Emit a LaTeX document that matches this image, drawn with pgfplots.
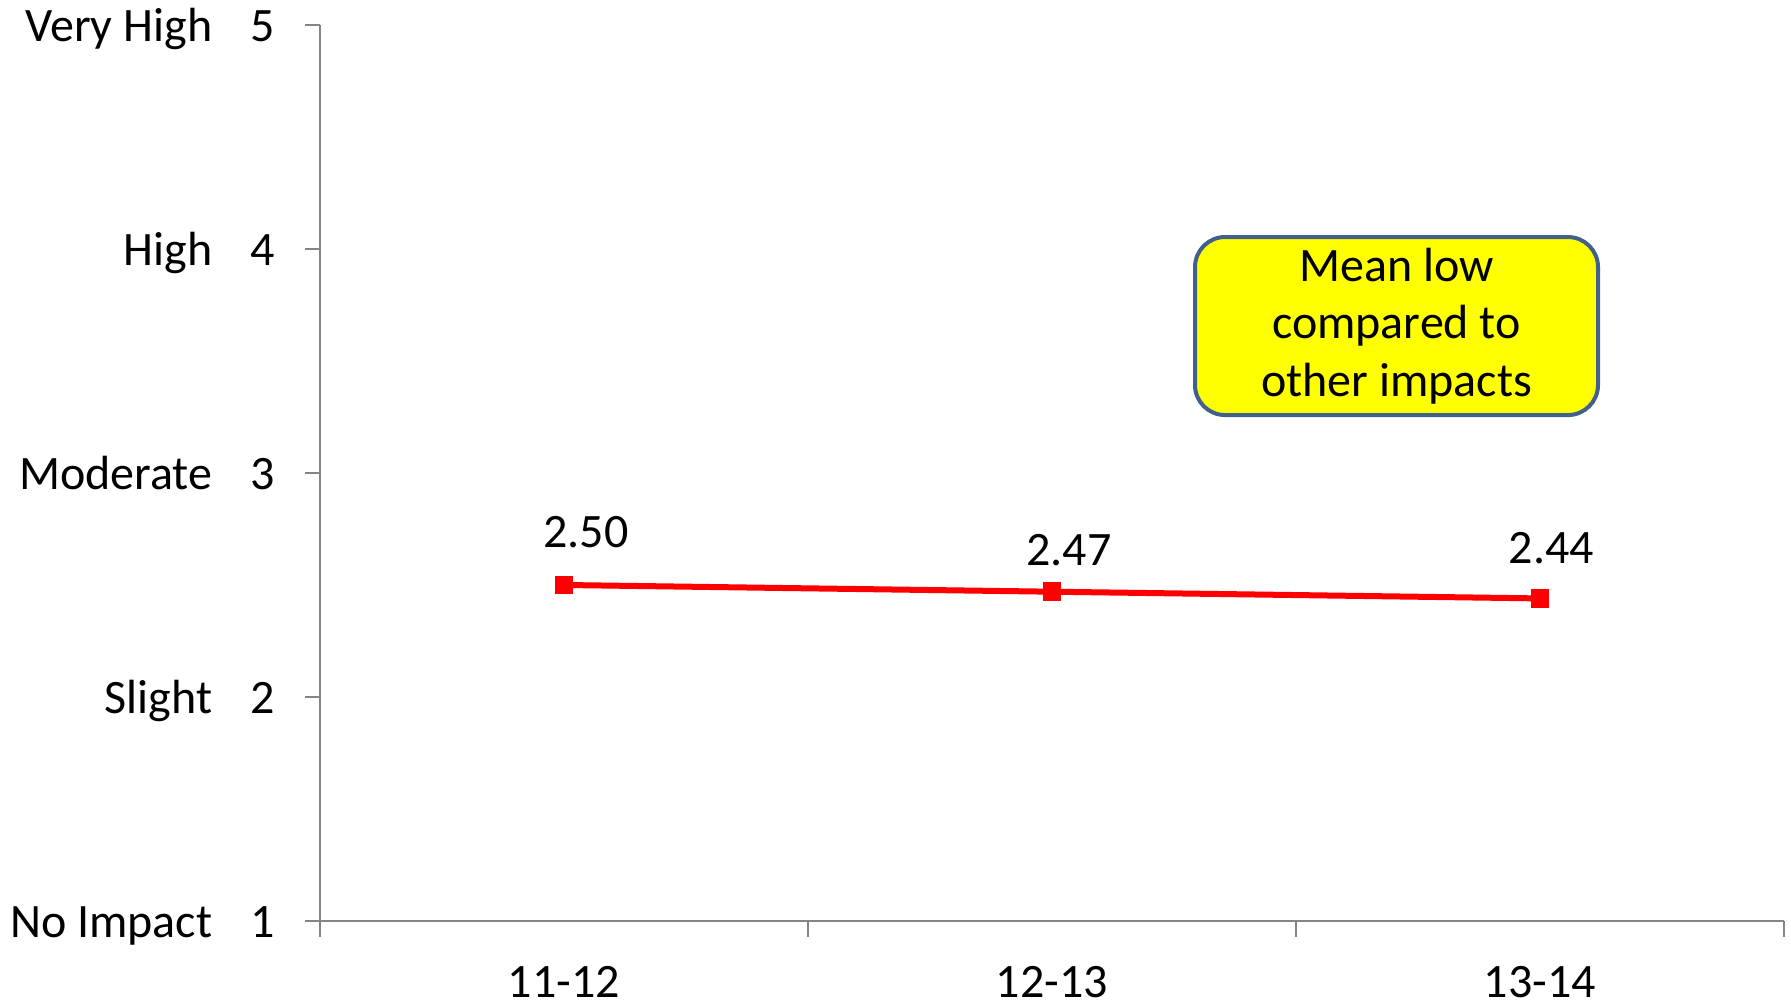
\documentclass[border=0pt]{standalone}
\usepackage{fontspec}
\setmainfont{Carlito}
\usepackage{pgfplots}
\pgfplotsset{compat=1.18}
\usepackage{pgfplotstable}

\definecolor{axisgray}{RGB}{134,134,134}
\definecolor{calloutedge}{RGB}{65,96,140}
\definecolor{calloutfill}{RGB}{255,255,0}

% mean impact per school year, with label offsets (pt)
\pgfplotstableread{
x y dx dy
0 2.50 5.5 13.25
1 2.47 4.25 10.5
2 2.44 2.85 12.6
}\meantable

\begin{document}
\begin{tikzpicture}
\begin{axis}[
  scale only axis, width=366pt, height=224pt,
  at={(0,0)}, anchor=south west,
  xmin=-0.5, xmax=2.5, ymin=1, ymax=5,
  axis x line*=bottom, axis y line*=left,
  axis line style={axisgray, line width=0.5pt},
  every tick/.style={axisgray, line width=0.5pt},
  tick align=outside,
  xtick={0,1,2}, xticklabels={11-12,12-13,13-14},
  minor xtick={-0.5,0.5,1.5,2.5},
  major x tick style={draw=none},
  minor tick length=4pt, major tick length=3.75pt,
  ytick={1,2,3,4,5},
  yticklabels={{No Impact\hspace{9.5pt}1},{Slight\hspace{9.5pt}2},{Moderate\hspace{9.5pt}3},{High\hspace{9.5pt}4},{Very High\hspace{9.5pt}5}},
  yticklabel style={anchor=base east, inner sep=0pt, xshift=-7.4pt, yshift=-4.2pt},
  xticklabel style={anchor=base, inner sep=0pt, yshift=-15.4pt},
  font=\fontsize{12}{14.4}\selectfont,
  /pgf/number format/assume math mode=true,
  clip=false,
]
\addplot[red, line width=1.5pt, mark=square*, mark size=1.6pt,
  nodes near coords={\pgfmathprintnumber[fixed,fixed zerofill,precision=2]{\pgfplotspointmeta}},
  point meta=y,
  visualization depends on={\thisrow{dx} \as \dx},
  visualization depends on={\thisrow{dy} \as \dy},
  every node near coord/.style={anchor=center, inner sep=0pt, xshift=\dx pt, yshift=\dy pt, text=black, font=\fontsize{12}{14.4}\selectfont}]
  table[x=x, y=y] \meantable;
\node[draw=calloutedge, line width=1pt, fill=calloutfill, rounded corners=7.5pt,
  minimum width=100.75pt, minimum height=44.5pt, inner sep=0pt, align=center,
  font=\fontsize{12}{14.4}\selectfont]
  at (axis cs:1.706,3.656) {Mean low\\compared to\\other impacts};
\end{axis}
\pgfresetboundingbox
\useasboundingbox (-80pt,-20.75pt) rectangle (367.75pt,230.25pt);
\end{tikzpicture}
\end{document}
